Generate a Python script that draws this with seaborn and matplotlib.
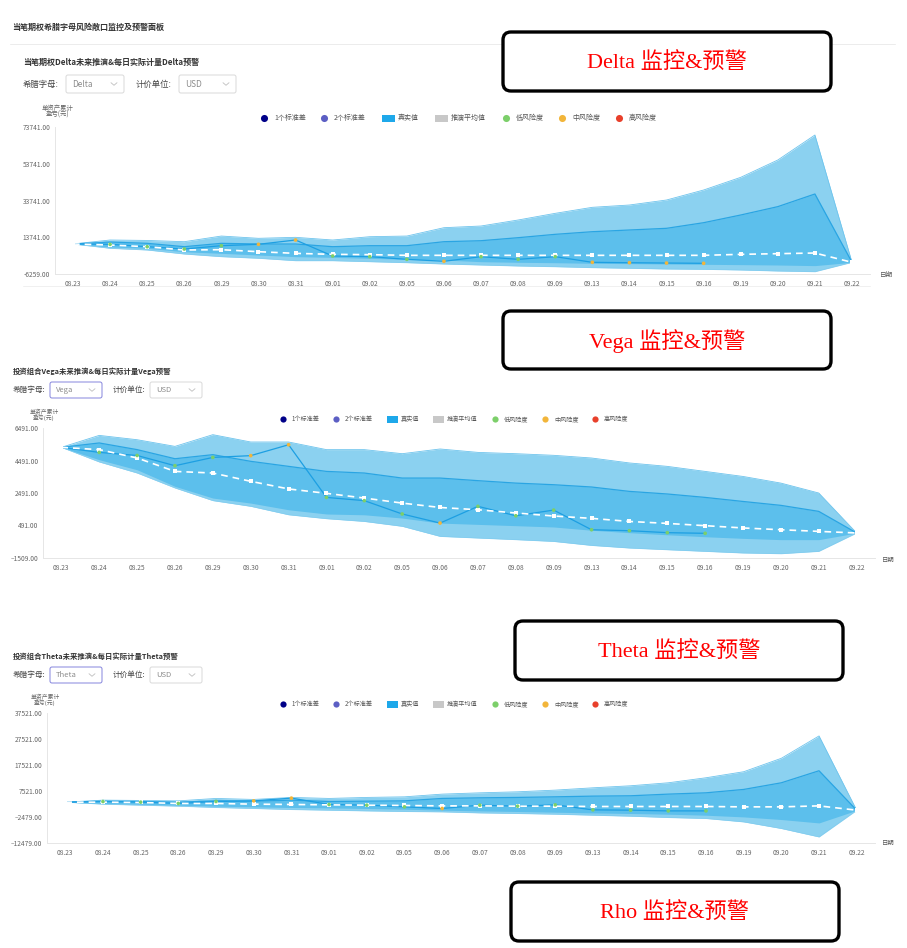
import matplotlib
matplotlib.use("Agg")
import numpy as np
import matplotlib.pyplot as plt
import seaborn as sns
from matplotlib.patches import FancyBboxPatch, Rectangle

# --- Data ---
DATES = ['08.23', '08.24', '08.25', '08.26', '08.29', '08.30', '08.31', '09.01',
         '09.02', '09.05', '09.06', '09.07', '09.08', '09.09', '09.13', '09.14',
         '09.15', '09.16', '09.19', '09.20', '09.21', '09.22']

DELTA_OUTER_UP = [10070, 12240, 12000, 11320, 14400, 13160, 13700, 12240, 14040, 14400, 18940,
                  19860, 23130, 26760, 30030, 31290, 34010, 39450, 46350, 55780, 69380, 100]
DELTA_INNER_UP = [10070, 11140, 10430, 8600, 10430, 10070, 10070, 8600, 9140, 9140, 11320,
                  11860, 13500, 15330, 16760, 17690, 18600, 21660, 25850, 30400, 37280, 100]
DELTA_INNER_LO = [10070, 8440, 7720, 5860, 5000, 4080, 3170, 2810, 2270, 1730, 1360,
                  440, 110, -110, -440, -620, -800, -980, -1160, -1360, -1700, 100]
DELTA_OUTER_LO = [10070, 7720, 6800, 4620, 3170, 2300, 980, 980, 440, -100, -820,
                  -1360, -1900, -2290, -2800, -3150, -3540, -3720, -4080, -4630, -5000, 100]
DELTA_MEAN = [10070, 9520, 8600, 6800, 6970, 5880, 4970, 4440, 4260, 3900, 3900,
              3900, 3900, 3900, 3900, 3900, 3900, 3900, 4440, 4800, 5160, 100]
DELTA_ACTUAL = [10070, 9900, 8600, 7340, 9140, 9900, 12240, 3540, 3170, 1730, 660,
                3170, 1730, 3170, 100, -110, -290, -440]
DELTA_RISK = ['', 'low', 'low', 'low', 'low', 'mid', 'mid', 'low', 'low', 'low', 'mid',
              'low', 'low', 'low', 'mid', 'mid', 'mid', 'mid']
DELTA_YTICKS = [-6259, 13741, 33741, 53741, 73741]

VEGA_OUTER_UP = [5300, 6036, 5770, 5360, 6080, 5630, 5630, 5160, 5160, 4910, 5200,
                 4990, 4910, 4810, 4645, 4340, 4130, 3820, 3510, 3100, 2490, 30]
VEGA_INNER_UP = [5300, 5570, 5160, 4600, 4850, 4440, 4130, 3820, 3720, 3410, 3410,
                 3250, 3100, 3000, 2860, 2590, 2430, 2220, 1970, 1730, 1360, 30]
VEGA_INNER_LO = [5300, 4540, 3920, 2900, 2180, 1870, 1460, 1200, 1150, 950, 640,
                 560, 480, 400, 200, 50, -80, -200, -300, -380, -380, 30]
VEGA_OUTER_LO = [5300, 4400, 3720, 2800, 2020, 1670, 1150, 910, 740, 440, -180,
                 -280, -380, -490, -735, -895, -1000, -1100, -1200, -1245, -1100, 30]
VEGA_MEAN = [5300, 5160, 4645, 3820, 3720, 3210, 2740, 2470, 2180, 1870, 1600,
             1460, 1260, 1075, 930, 740, 620, 480, 340, 230, 130, 30]
VEGA_ACTUAL = [5300, 4990, 4800, 4170, 4680, 4790, 5460, 2220, 2020, 1200, 640,
               1670, 1090, 1440, 230, 170, 50, 10]
VEGA_RISK = ['', 'low', 'low', 'low', 'low', 'mid', 'mid', 'low', 'low', 'low', 'mid',
             'low', 'low', 'low', 'low', 'low', 'low', 'low']
VEGA_YTICKS = [-1509, 491, 2491, 4491, 6491]

THETA_OUTER_UP = [3230, 4000, 3880, 3730, 4660, 4270, 5050, 4660, 5050, 5280, 6320,
                  6820, 7210, 7860, 8750, 9530, 10680, 12610, 14930, 20100, 28700, 100]
THETA_INNER_UP = [3230, 3610, 3480, 3230, 3730, 3610, 4000, 3480, 3610, 3730, 4660,
                  4900, 5050, 5280, 5550, 5680, 6320, 6820, 8120, 10680, 15310, 100]
THETA_INNER_LO = [3230, 2730, 2460, 2070, 1690, 1420, 1180, 1030, 800, 530, 140,
                  -130, -360, -630, -900, -1130, -1400, -1790, -2440, -3450, -4760, 100]
THETA_OUTER_LO = [3230, 2460, 2070, 1690, 1180, 800, 400, 140, -130, -360, -500,
                  -900, -1130, -1400, -1790, -2170, -2680, -3060, -4370, -6920, -10160, 100]
THETA_MEAN = [3230, 3230, 3100, 2730, 2730, 2460, 2340, 2190, 2070, 1950, 1800,
              1800, 1690, 1690, 1560, 1560, 1560, 1560, 1420, 1420, 1800, 140]
THETA_ACTUAL = [3230, 3480, 3230, 2730, 3500, 3730, 4780, 2340, 2070, 1420, 800,
                2070, 1690, 2190, 260, 140, -130, -130]
THETA_RISK = ['', 'low', 'low', 'low', 'low', 'mid', 'mid', 'low', 'low', 'low', 'mid',
              'low', 'low', 'low', 'low', 'low', 'low', 'low']
THETA_YTICKS = [-12479, -2479, 7521, 17521, 27521, 37521]

LEGEND_LABELS = ['1个标准差', '2个标准差', '真实值', '推演平均值', '低风险度', '中风险度', '高风险度']
LEGEND_COLORS = ['#000088', '#5c5fc4', '#1ea8ea', '#c8c8c8', '#7ccf6a', '#f2b53a', '#e8402b']
LEGEND_KINDS = ['dot', 'dot', 'rect', 'rect', 'dot', 'dot', 'dot']
RISK_COLORS = {'low': '#7ccf6a', 'mid': '#f2b53a', 'high': '#e8402b'}

# --- Style ---
W, H = 907, 948
OUTER_FILL = '#8bd1f0'
INNER_FILL = '#5cbfec'
EDGE = '#2aa5e3'
ACTUAL_LINE = '#1d9fe2'
TICK_COLOR = '#666666'

sns.set_theme(style="white")
plt.rcParams['font.family'] = ['Noto Sans CJK SC', 'DejaVu Sans']
plt.rcParams['axes.unicode_minus'] = False


def px_axes(fig, left, top, right, bottom):
    """Axes placed by pixel box (top-left origin)."""
    return fig.add_axes([left / W, 1 - bottom / H, (right - left) / W, (bottom - top) / H])


def draw_chart(ax, outer_up, outer_lo, inner_up, inner_lo, mean, actual, risk, yticks, minus):
    x = np.arange(len(DATES))
    ax.fill_between(x, outer_lo, outer_up, color=OUTER_FILL, lw=0, zorder=1)
    ax.fill_between(x, inner_lo, inner_up, color=INNER_FILL, lw=0, zorder=2)
    sns.lineplot(x=x, y=outer_up, ax=ax, color='#6ec4ed', lw=0.6, zorder=2)
    sns.lineplot(x=x, y=outer_lo, ax=ax, color='#7fcbef', lw=0.4, zorder=2)
    sns.lineplot(x=x, y=inner_up, ax=ax, color=EDGE, lw=0.9, zorder=3)

    xa = x[:len(actual)]
    sns.lineplot(x=xa, y=actual, ax=ax, color=ACTUAL_LINE, lw=0.9, zorder=4)
    sns.lineplot(x=x, y=mean, ax=ax, color='white', lw=1.2, linestyle=(0, (4, 3)),
                 marker='s', markersize=2.4, markeredgewidth=0, zorder=5)

    rx = [i for i, r in enumerate(risk) if r]
    ry = [actual[i] for i in rx]
    rh = [risk[i] for i in rx]
    sns.scatterplot(x=rx, y=ry, hue=rh, palette=RISK_COLORS, s=7, linewidth=0,
                    legend=False, ax=ax, zorder=6)

    ax.set_xlim(-0.485, len(DATES) - 1 + 0.485)
    ax.set_ylim(yticks[0], yticks[-1])
    ax.set_xticks(x)
    ax.set_xticklabels(DATES)
    ax.set_yticks(yticks)
    ax.set_yticklabels([f"{v:.2f}".replace('-', minus) for v in yticks])
    ax.tick_params(axis='both', length=0, labelsize=4.8, colors=TICK_COLOR)
    ax.tick_params(axis='y', pad=3.2)
    ax.tick_params(axis='x', pad=4.3)
    for side in ['top', 'right']:
        ax.spines[side].set_visible(False)
    for side in ['left', 'bottom']:
        ax.spines[side].set_color('#e6e6e6')
        ax.spines[side].set_linewidth(0.7)
    ax.set_xlabel('')
    ax.set_ylabel('')
    ax.grid(False)


def draw_legend(ov, y, xs, fs, dot_s, rect_w, dot_gap):
    for x0, label, color, kind in zip(xs, LEGEND_LABELS, LEGEND_COLORS, LEGEND_KINDS):
        if kind == 'dot':
            ov.scatter([x0], [y], s=dot_s, color=color, linewidth=0, zorder=3)
            tx = x0 + dot_gap
        else:
            ov.add_patch(Rectangle((x0, y - 3.5), rect_w, 7, color=color, lw=0, zorder=3))
            tx = x0 + rect_w + 3
        ov.text(tx, y, label, fontsize=fs, color='#555555', va='center', ha='left')


def draw_dropdown(ov, x0, y0, x1, y1, text, edge, fs):
    ov.add_patch(FancyBboxPatch((x0, y0), x1 - x0, y1 - y0,
                                boxstyle='round,pad=0,rounding_size=2',
                                fc='white', ec=edge, lw=0.7, zorder=3))
    cy = (y0 + y1) / 2
    ov.text(x0 + 6, cy, text, fontsize=fs, color='#8c8c8c', va='center', ha='left', zorder=4)
    cx = x1 - 10
    ov.plot([cx - 3, cx, cx + 3], [cy - 1.3, cy + 1.3, cy - 1.3], color='#bfbfbf', lw=0.6, zorder=4)


def draw_note(ov, x0, y0, x1, y1, text):
    ov.add_patch(FancyBboxPatch((x0, y0), x1 - x0, y1 - y0,
                                boxstyle='round,pad=0,rounding_size=8',
                                fc='white', ec='black', lw=2.4, zorder=5))
    ov.text((x0 + x1) / 2, (y0 + y1) / 2 + 1, text, fontsize=16, color='#ff0000',
            family=['Liberation Serif', 'Noto Sans CJK SC'],
            va='center', ha='center', zorder=6)


fig = plt.figure(figsize=(W / 100, H / 100), dpi=100)
fig.patch.set_facecolor('white')

# chart areas
ax_delta = px_axes(fig, 55, 127, 870, 274)
draw_chart(ax_delta, DELTA_OUTER_UP, DELTA_OUTER_LO, DELTA_INNER_UP, DELTA_INNER_LO,
           DELTA_MEAN, DELTA_ACTUAL, DELTA_RISK, DELTA_YTICKS, '-')
ax_vega = px_axes(fig, 43, 428, 875, 558)
draw_chart(ax_vega, VEGA_OUTER_UP, VEGA_OUTER_LO, VEGA_INNER_UP, VEGA_INNER_LO,
           VEGA_MEAN, VEGA_ACTUAL, VEGA_RISK, VEGA_YTICKS, '\u2013')
ax_theta = px_axes(fig, 47, 713, 875, 843)
draw_chart(ax_theta, THETA_OUTER_UP, THETA_OUTER_LO, THETA_INNER_UP, THETA_INNER_LO,
           THETA_MEAN, THETA_ACTUAL, THETA_RISK, THETA_YTICKS, '\u2013')

# overlay in pixel coordinates
ov = fig.add_axes([0, 0, 1, 1], zorder=10)
ov.set_xlim(0, W)
ov.set_ylim(H, 0)
ov.axis('off')

ov.text(12, 27, '当笔期权希腊字母风险敞口监控及预警面板', fontsize=5.8, color='#333333',
        weight='bold', va='center')
ov.plot([10, 895], [44, 44], color='#ececec', lw=0.7)
ov.plot([23, 870], [286, 286], color='#f0f0f0', lw=0.7)

# Delta panel header
ov.text(23, 62, '当笔期权Delta未来推演&每日实际计量Delta预警', fontsize=5.8, color='#333333',
        weight='bold', va='center')
ov.text(23, 84, '希腊字母:', fontsize=6.0, color='#444444', va='center')
draw_dropdown(ov, 66, 75, 124, 93, 'Delta', '#d9d9d9', 6.0)
ov.text(136, 84, '计价单位:', fontsize=6.0, color='#444444', va='center')
draw_dropdown(ov, 179, 75, 236, 93, 'USD', '#d9d9d9', 6.0)
ov.text(58, 108, '单资产累计', fontsize=4.6, color='#666666', va='center', ha='center')
ov.text(58, 115, '盈亏(元)', fontsize=4.6, color='#666666', va='center', ha='center')
draw_legend(ov, 118, [264, 324, 382, 435, 506, 562, 619], 5.0, 26, 13, 10)
ov.text(880, 275, '日期', fontsize=4.8, color='#555555', va='center')

# Vega panel header
ov.text(13, 371, '投资组合Vega未来推演&每日实际计量Vega预警', fontsize=5.3, color='#333333',
        weight='bold', va='center')
ov.text(13, 390, '希腊字母:', fontsize=5.5, color='#444444', va='center')
draw_dropdown(ov, 50, 382, 102, 398, 'Vega', '#8484dc', 5.5)
ov.text(113, 390, '计价单位:', fontsize=5.5, color='#444444', va='center')
draw_dropdown(ov, 150, 382, 202, 398, 'USD', '#d9d9d9', 5.5)
ov.text(44, 412, '单资产累计', fontsize=4.2, color='#666666', va='center', ha='center')
ov.text(44, 418, '盈亏(元)', fontsize=4.2, color='#666666', va='center', ha='center')
draw_legend(ov, 419, [283, 336, 387, 433, 495, 545, 595], 4.4, 20, 11, 9)
ov.text(882, 560, '日期', fontsize=4.6, color='#555555', va='center')

# Theta panel header
ov.text(13, 656, '投资组合Theta未来推演&每日实际计量Theta预警', fontsize=5.3, color='#333333',
        weight='bold', va='center')
ov.text(13, 675, '希腊字母:', fontsize=5.5, color='#444444', va='center')
draw_dropdown(ov, 50, 667, 102, 683, 'Theta', '#8484dc', 5.5)
ov.text(113, 675, '计价单位:', fontsize=5.5, color='#444444', va='center')
draw_dropdown(ov, 150, 667, 202, 683, 'USD', '#d9d9d9', 5.5)
ov.text(45, 697, '单资产累计', fontsize=4.2, color='#666666', va='center', ha='center')
ov.text(45, 703, '盈亏(元)', fontsize=4.2, color='#666666', va='center', ha='center')
draw_legend(ov, 704, [283, 336, 387, 433, 495, 545, 595], 4.4, 20, 11, 9)
ov.text(882, 843, '日期', fontsize=4.6, color='#555555', va='center')

# annotation boxes
draw_note(ov, 503, 32, 831, 91, 'Delta 监控&预警')
draw_note(ov, 503, 311, 831, 369, 'Vega 监控&预警')
draw_note(ov, 515, 621, 843, 680, 'Theta 监控&预警')
draw_note(ov, 511, 882, 839, 941, 'Rho 监控&预警')

fig.savefig('out.png', dpi=100, facecolor='white')
